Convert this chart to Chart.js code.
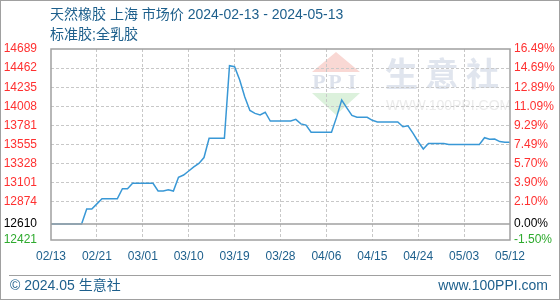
<!DOCTYPE html>
<html>
<head>
<meta charset="utf-8">
<script src="https://cdn.jsdelivr.net/npm/chart.js@4"></script>
<style>
  html, body { margin: 0; padding: 0; background: #fff; }
  #wrap { width: 560px; height: 300px; position: relative; }
</style>
</head>
<body>
<div id="wrap"><canvas id="price-chart" width="560" height="300"></canvas></div>
<script>
// 天然橡胶 上海 市场价, daily, 02/13 .. 05/13
const prices = [
  12610, 12610, 12610, 12610, 12610, 12610, 12610, 12789, 12789, 12850,
  12911, 12911, 12911, 12911, 13030, 13030, 13094, 13094, 13094, 13094,
  13094, 13003, 13003, 13018, 13003, 13165, 13193, 13240, 13290, 13330,
  13400, 13629, 13629, 13629, 13629, 14490, 14478, 14321, 14120, 13960,
  13925, 13905, 13938, 13834, 13834, 13834, 13834, 13834, 13854, 13800,
  13786, 13700, 13700, 13700, 13700, 13700, 13880, 14083, 13990, 13900,
  13878, 13878, 13878, 13842, 13822, 13822, 13822, 13822, 13822, 13766,
  13778, 13688, 13588, 13501, 13568, 13568, 13568, 13568, 13556, 13556,
  13556, 13556, 13556, 13556, 13556, 13636, 13617, 13620, 13590, 13581,
  13581
];
const xTickLabels = ['02/13', '02/21', '03/01', '03/10', '03/19', '03/28', '04/06', '04/15', '04/24', '05/03', '05/12'];
const xTickStep = 9;
const basePrice = 12610;
const yTicks = [12421, 12610, 12874, 13101, 13328, 13555, 13781, 14008, 14235, 14462, 14689];
const pctLabels = ['-1.50%', '0.00%', '2.10%', '3.90%', '5.70%', '7.49%', '9.29%', '11.09%', '12.89%', '14.69%', '16.49%'];

const BLUE_TEXT = '#1d5f8c';
const FONT = '"Liberation Sans", "Noto Sans CJK SC", sans-serif';

function tickColor(ctx) {
  const v = ctx.tick ? ctx.tick.value : null;
  if (v === yTicks[0]) return '#2eaa2e';
  if (v === basePrice) return '#000';
  return '#ff3030';
}

const decor = {
  id: 'decor',
  beforeDraw(chart) {
    const c = chart.ctx;
    c.save();
    // watermark logo
    c.fillStyle = '#f9d8d4';
    c.beginPath(); c.moveTo(336, 52); c.lineTo(312, 72); c.lineTo(360, 72); c.closePath(); c.fill();
    c.fillStyle = '#dcf1dc';
    c.beginPath(); c.moveTo(312, 93); c.lineTo(360, 93); c.lineTo(336, 115); c.closePath(); c.fill();
    c.fillStyle = '#dde2ec';
    c.font = 'bold 22px "Liberation Serif", serif';
    c.textAlign = 'center'; c.textBaseline = 'middle';
    c.fillText('P', 319, 83);
    c.fillText('P', 335, 83);
    c.fillText('I', 352, 83);
    c.fillStyle = '#e0e5ee';
    c.font = 'bold 33px "Noto Sans CJK SC", sans-serif';
    c.textAlign = 'left';
    c.fillText('生 意 社', 385, 73);
    c.fillStyle = '#ebebeb';
    c.font = '14px ' + FONT;
    c.fillText('WWW.100PPI.COM', 386, 106);
    c.restore();
  },
  afterDatasetsDraw(chart) {
    const c = chart.ctx, a = chart.chartArea;
    const y0 = chart.scales.y.getPixelForValue(basePrice);
    c.save();
    c.strokeStyle = '#a0a0a0';
    c.lineWidth = 1.5;
    c.beginPath(); c.moveTo(a.left, y0); c.lineTo(a.right, y0); c.stroke();
    c.strokeRect(a.left, a.top, a.right - a.left, a.bottom - a.top);
    c.restore();
  },
  afterDraw(chart) {
    const c = chart.ctx;
    c.save();
    c.fillStyle = BLUE_TEXT;
    c.font = '14px ' + FONT;
    c.textBaseline = 'middle';
    c.textAlign = 'left';
    c.fillText('天然橡胶 上海 市场价 2024-02-13 - 2024-05-13', 50, 15);
    c.fillText('标准胶;全乳胶', 50, 35);
    c.fillText('© 2024.05 生意社', 10, 286);
    c.textAlign = 'right';
    c.fillText('www.100PPI.com', 548, 286);
    c.strokeStyle = '#a0a0a0';
    c.lineWidth = 1;
    c.beginPath(); c.moveTo(9, 275.5); c.lineTo(551, 275.5); c.stroke();
    c.strokeRect(0.5, 0.5, 559, 299);
    c.restore();
  }
};

new Chart(document.getElementById('price-chart').getContext('2d'), {
  type: 'line',
  data: {
    datasets: [{
      label: '市场价',
      data: prices.map((p, i) => ({ x: i, y: p })),
      borderColor: '#3998d6',
      borderWidth: 1.5,
      pointRadius: 0,
      tension: 0,
      fill: false,
    }]
  },
  options: {
    responsive: false,
    animation: false,
    layout: { padding: { top: 49, left: 0, right: 0, bottom: 0 } },
    plugins: {
      legend: { display: false },
      tooltip: { enabled: false },
    },
    scales: {
      x: {
        type: 'linear',
        min: 0,
        max: (xTickLabels.length - 1) * xTickStep,
        afterBuildTicks(scale) {
          scale.ticks = xTickLabels.map((_, i) => ({ value: i * xTickStep }));
        },
        afterFit(scale) { scale.height = 60; },
        ticks: {
          autoSkip: false,
          maxRotation: 0,
          padding: 9,
          color: BLUE_TEXT,
          font: { family: FONT, size: 12 },
          callback: (v) => xTickLabels[Math.round(v / xTickStep)],
        },
        grid: {
          color: (ctx) => (ctx.index === 0 || ctx.index === xTickLabels.length - 1) ? 'rgba(0,0,0,0)' : '#c8c8c8',
          drawTicks: false,
        },
        border: { display: false, dash: [3, 2] },
      },
      y: {
        position: 'left',
        min: yTicks[0],
        max: yTicks[yTicks.length - 1],
        afterBuildTicks(scale) {
          scale.ticks = yTicks.map(v => ({ value: v }));
        },
        afterFit(scale) { scale.width = 51; },
        ticks: {
          autoSkip: false,
          padding: 14,
          color: tickColor,
          font: { family: FONT, size: 12 },
          callback: (v) => String(v),
        },
        grid: {
          color: (ctx) => {
            const v = ctx.tick ? ctx.tick.value : null;
            return (v === yTicks[0] || v === basePrice || v === yTicks[yTicks.length - 1]) ? 'rgba(0,0,0,0)' : '#c8c8c8';
          },
          drawTicks: false,
        },
        border: { display: false, dash: [3, 2] },
      },
      y1: {
        position: 'right',
        min: yTicks[0],
        max: yTicks[yTicks.length - 1],
        afterBuildTicks(scale) {
          scale.ticks = yTicks.map(v => ({ value: v }));
        },
        afterFit(scale) { scale.width = 50; },
        ticks: {
          autoSkip: false,
          padding: 4,
          color: tickColor,
          font: { family: FONT, size: 12 },
          callback: (v) => pctLabels[yTicks.indexOf(v)],
        },
        grid: { drawOnChartArea: false, drawTicks: false },
        border: { display: false },
      }
    }
  },
  plugins: [decor]
});
</script>
</body>
</html>
